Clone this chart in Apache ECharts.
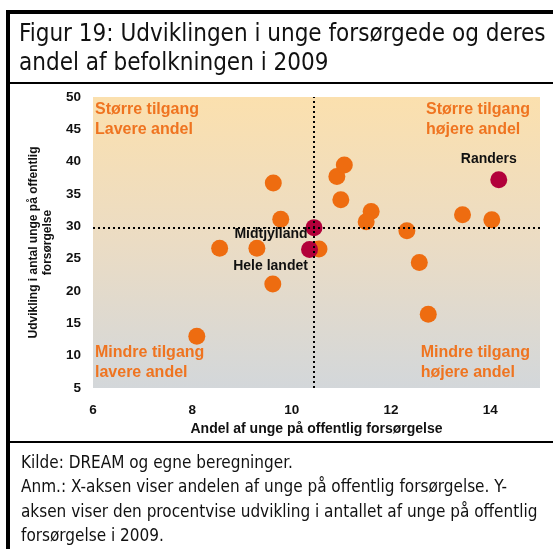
<!DOCTYPE html>
<html>
<head>
<meta charset="utf-8">
<script src="https://cdn.jsdelivr.net/npm/echarts@6/dist/echarts.min.js"></script>
<style>
  html, body { margin: 0; padding: 0; background: #fff; }
  #chart { width: 553px; height: 549px; }
</style>
</head>
<body>
<div id="chart"></div>
<script>
// kommuner (orange)
var kommuneX = [8.09, 8.55, 9.30, 9.63, 9.78, 9.62, 10.55, 10.91, 11.06, 10.99, 11.60, 11.50, 12.32, 12.57, 12.75, 13.44, 14.03];
var kommuneY = [13.0, 26.6, 26.6, 36.7, 31.1, 21.1, 26.5, 37.7, 39.5, 34.1, 32.3, 30.7, 29.3, 24.4, 16.4, 31.8, 31.0];

// fremhævede punkter (mørkerøde)
var fremhNavne = ['Midtjylland', 'Hele landet', 'Randers'];
var fremhX = [10.45, 10.36, 14.17];
var fremhY = [29.8, 26.4, 37.2];

var xTicks = [6, 8, 10, 12, 14];
var yTicks = [5, 10, 15, 20, 25, 30, 35, 40, 45, 50];

var titleLines = ['Figur 19: Udviklingen i unge forsørgede og deres', 'andel af befolkningen i 2009'];
var footerLines = [
  'Kilde: DREAM og egne beregninger.',
  'Anm.: X-aksen viser andelen af unge på offentlig forsørgelse. Y-',
  'aksen viser den procentvise udvikling i antallet af unge på offentlig',
  'forsørgelse i 2009.'
];

var chartDom = document.getElementById('chart');
var myChart = echarts.init(chartDom);

var orange = '#ee6c10';
var darkRed = '#b2003a';
var textOrange = '#ef7420';
var font = '"Liberation Sans", Arial, sans-serif';
var narrow = '"Liberation Sans Narrow", "DejaVu Sans Condensed", "Liberation Sans", sans-serif';

var labelOpts = [
  { position: 'left', offset: [7, 7] },
  { position: 'bottom', offset: [-39, -4] },
  { position: 'top', offset: [-10, 0] }
];

var kommuneData = kommuneX.map(function (x, i) { return [x, kommuneY[i]]; });
var fremhData = fremhX.map(function (x, i) {
  return {
    name: fremhNavne[i],
    value: [x, fremhY[i]],
    label: {
      show: true,
      formatter: '{b}',
      position: labelOpts[i].position,
      offset: labelOpts[i].offset,
      color: '#111',
      fontFamily: font,
      fontWeight: 'bold',
      fontSize: 14
    }
  };
});

function quadText(txt, pos) {
  var el = {
    type: 'text', top: pos.top,
    style: { text: txt, fill: textOrange, font: 'bold 16px ' + font, lineHeight: 20 }
  };
  if (pos.left !== undefined) el.left = pos.left; else el.right = pos.right;
  return el;
}

var graphics = [
  // ramme
  { type: 'rect', shape: { x: 6, y: 10, width: 547, height: 4 }, style: { fill: '#000' } },
  { type: 'rect', shape: { x: 6, y: 10, width: 4, height: 539 }, style: { fill: '#000' } },
  { type: 'rect', shape: { x: 10, y: 82, width: 543, height: 2 }, style: { fill: '#000' } },
  { type: 'rect', shape: { x: 10, y: 441, width: 543, height: 2 }, style: { fill: '#000' } },
  {
    type: 'text', left: 19, top: 20,
    style: { text: titleLines.join('\n'), fill: '#111', font: '24px ' + narrow, lineHeight: 29 }
  },
  {
    type: 'text', left: 21, top: 451,
    style: { text: footerLines.join('\n'), fill: '#111', font: '17px ' + narrow, lineHeight: 24.5 }
  },
  quadText('Større tilgang\nLavere andel', { left: 95, top: 100 }),
  quadText('Større tilgang\nhøjere andel', { right: 23, top: 100 }),
  quadText('Mindre tilgang\nlavere andel', { left: 95, top: 343 }),
  quadText('Mindre tilgang\nhøjere andel', { right: 23, top: 343 })
];

var option = {
  animation: false,
  backgroundColor: '#fff',
  grid: {
    left: 93, right: 13, top: 97, bottom: 161,
    show: true,
    borderWidth: 0,
    backgroundColor: {
      type: 'linear', x: 0, y: 0, x2: 0, y2: 1,
      colorStops: [
        { offset: 0, color: '#fbe0ae' },
        { offset: 0.5, color: '#ebdcc4' },
        { offset: 1, color: '#d3d7da' }
      ]
    }
  },
  xAxis: {
    type: 'value',
    min: 6, max: 15, interval: 2,
    name: 'Andel af unge på offentlig forsørgelse',
    nameLocation: 'middle',
    nameGap: 31,
    nameTextStyle: { color: '#111', fontFamily: font, fontWeight: 'bold', fontSize: 14 },
    axisLine: { show: false },
    axisTick: { show: false },
    splitLine: { show: false },
    axisLabel: {
      color: '#111', fontFamily: font, fontWeight: 'bold', fontSize: 13.5, margin: 15,
      formatter: function (v) { return xTicks.indexOf(v) >= 0 ? String(v) : ''; }
    }
  },
  yAxis: {
    type: 'value',
    min: 5, max: 50, interval: 5,
    name: 'Udvikling i antal unge på offentlig\nforsørgelse',
    nameLocation: 'middle',
    nameRotate: 90,
    nameGap: 30,
    nameTextStyle: { color: '#111', fontFamily: font, fontWeight: 'bold', fontSize: 12, lineHeight: 14 },
    axisLine: { show: false },
    axisTick: { show: false },
    splitLine: { show: false },
    axisLabel: {
      color: '#111', fontFamily: font, fontWeight: 'bold', fontSize: 13.5, margin: 12,
      formatter: function (v) { return yTicks.indexOf(v) >= 0 ? String(v) : ''; }
    }
  },
  series: [
    {
      type: 'scatter',
      symbolSize: 17,
      itemStyle: { color: orange, opacity: 1 },
      data: kommuneData,
      markLine: {
        silent: true,
        symbol: 'none',
        label: { show: false },
        lineStyle: { color: '#000', type: [2, 3], width: 2 },
        data: [
          { xAxis: fremhX[0] },
          { yAxis: fremhY[0] }
        ]
      },
      z: 3
    },
    {
      type: 'scatter',
      symbolSize: 17,
      itemStyle: { color: darkRed, opacity: 1 },
      data: fremhData,
      z: 4
    }
  ],
  graphic: graphics
};

option && myChart.setOption(option);
</script>
</body>
</html>
